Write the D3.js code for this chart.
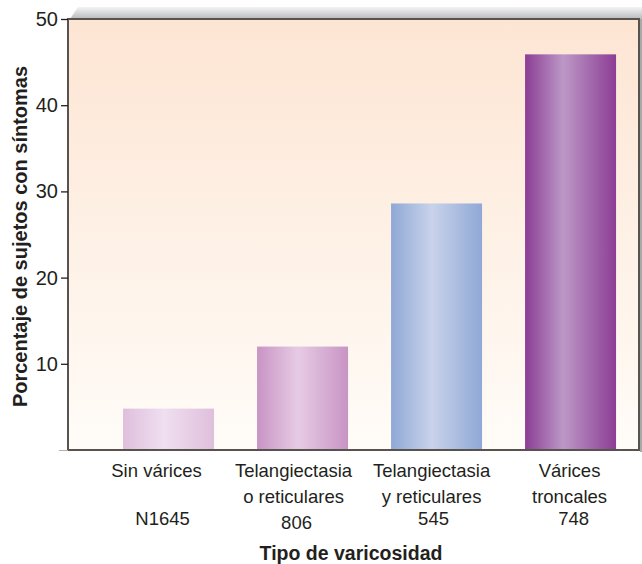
<!DOCTYPE html>
<html><head><meta charset="utf-8">
<script src="https://cdn.jsdelivr.net/npm/d3@7"></script>
<style>body{margin:0;background:#fff}svg{display:block}text{font-family:"Liberation Sans",Arial,sans-serif;fill:#231f20}</style>
</head><body>
<svg id="c" width="642" height="564"></svg>
<script>
const categories = ["Sin várices", "Telangiectasia o reticulares", "Telangiectasia y reticulares", "Várices troncales"];
const labelLines = [["Sin várices", "", "N1645"], ["Telangiectasia", "o reticulares", "806"], ["Telangiectasia", "y reticulares", "545"], ["Várices", "troncales", "748"]];
const values = [4.8, 12, 28.6, 45.9];
const yTicks = [10, 20, 30, 40, 50];
const barColors = [
  ["#dfbfdc", "#efdff0", "#dfbfdc"],
  ["#c894c4", "#e6cbe4", "#c894c4"],
  ["#8fa8d6", "#c9d3ea", "#8fa8d6"],
  ["#8c3d95", "#bc98c6", "#8c3d95"]
];

const svg = d3.select("#c");
const L = 68, R = 639, T = 19, B = 450;
const y = d3.scaleLinear().domain([0, 50]).range([B, T]);
const x = d3.scaleBand().domain(categories).range([101.6, 637.5]).paddingInner(0.321).paddingOuter(0.16);

const defs = svg.append("defs");
const bg = defs.append("linearGradient").attr("id", "bg").attr("x1", 0).attr("y1", 0).attr("x2", 0).attr("y2", 1);
bg.append("stop").attr("offset", 0).attr("stop-color", "#fde5d3");
bg.append("stop").attr("offset", 1).attr("stop-color", "#fffcf8");
const hd = defs.append("linearGradient").attr("id", "hd").attr("x1", 0).attr("y1", 0).attr("x2", 0).attr("y2", 1);
hd.append("stop").attr("offset", 0).attr("stop-color", "#f4f4f5");
hd.append("stop").attr("offset", 1).attr("stop-color", "#b9babd");
barColors.forEach((c, i) => {
  const g = defs.append("linearGradient").attr("id", "b" + i).attr("x1", 0).attr("y1", 0).attr("x2", 1).attr("y2", 0);
  g.append("stop").attr("offset", 0).attr("stop-color", c[0]);
  g.append("stop").attr("offset", i === 3 ? 0.42 : 0.45).attr("stop-color", c[1]);
  g.append("stop").attr("offset", 1).attr("stop-color", c[2]);
});

// header strip
svg.append("path").attr("d", `M${L+2},${T} L${L+10},${T-12} L642,${T-12} L642,${T} Z`).attr("fill", "url(#hd)");
// background
svg.append("rect").attr("x", L).attr("y", T).attr("width", R - L).attr("height", B - T).attr("fill", "url(#bg)");
// right shadow
svg.append("rect").attr("x", R + 1).attr("y", T).attr("width", 2).attr("height", B - T + 2).attr("fill", "#a9a9a9");

// bars
svg.selectAll("rect.bar").data(values).enter().append("rect").attr("class", "bar")
  .attr("x", (d, i) => x(categories[i])).attr("width", x.bandwidth())
  .attr("y", d => y(d)).attr("height", d => B - y(d))
  .attr("fill", (d, i) => `url(#b${i})`);

// frame
svg.append("path").attr("d", `M${L},${T} L${R},${T} L${R},${B} L${L},${B} Z`).attr("fill", "none").attr("stroke", "#58534f").attr("stroke-width", 2);

// y axis
const ya = svg.append("g").attr("transform", `translate(${L},0)`)
  .call(d3.axisLeft(y).tickValues(yTicks).tickSize(7).tickPadding(3).tickFormat(d3.format("d")));
ya.select(".domain").remove();
ya.selectAll(".tick line").attr("stroke", "#231f20").attr("stroke-width", 1.3);
ya.selectAll(".tick text").attr("font-size", 20).attr("fill", "#231f20").style("font-family", '"Liberation Sans",Arial,sans-serif');
svg.append("line").attr("x1", 59).attr("x2", L).attr("y1", B + 0.5).attr("y2", B + 0.5).attr("stroke", "#b0b0b0").attr("stroke-width", 1);

// x labels (layout offsets relative to band centre)
const lineY = [477, 503, 525];
const labelDx = [-12, -9, -5, -1];
const numberDx = [-6, -6, -3, 3];
const xl = svg.append("g");
categories.forEach((c, i) => {
  const cx = x(c) + x.bandwidth() / 2;
  labelLines[i].forEach((t, j) => {
    if (!t) return;
    xl.append("text").attr("x", cx + (j === 2 ? numberDx[i] : labelDx[i])).attr("y", lineY[j] + (i === 1 && j === 2 ? 4 : 0))
      .attr("text-anchor", "middle").attr("font-size", 18.5).text(t);
  });
});

svg.append("text").attr("x", 351).attr("y", 560).attr("text-anchor", "middle").attr("font-size", 19.5).attr("font-weight", "bold").text("Tipo de varicosidad");
svg.append("text").attr("transform", "translate(27,236.5) rotate(-90)").attr("text-anchor", "middle").attr("font-size", 20).attr("font-weight", "bold").text("Porcentaje de sujetos con síntomas");
</script>
</body></html>
